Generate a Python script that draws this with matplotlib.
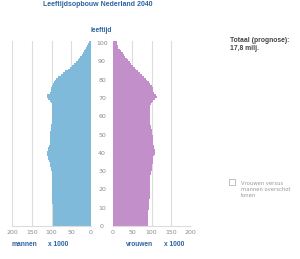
import matplotlib
matplotlib.use("Agg")
import matplotlib.pyplot as plt
from matplotlib.patches import Rectangle

ages = list(range(0, 101))
men = [95, 95, 96, 96, 96, 96, 97, 97, 97, 97,
       97, 97, 98, 98, 98, 98, 98, 98, 98, 98,
       98, 98, 99, 99, 99, 99, 99, 99, 100, 100,
       101, 102, 103, 103, 105, 107, 108, 110, 111, 112,
       111, 109, 108, 106, 105, 105, 104, 104, 103, 103,
       103, 103, 102, 102, 102, 101, 100, 99, 98, 98,
       98, 98, 98, 98, 98, 98, 99, 101, 104, 109,
       112, 111, 104, 101, 101, 101, 100, 97, 94, 91,
       88, 83, 77, 71, 65, 59, 53, 47, 42, 37,
       33, 30, 27, 24, 21, 18, 15, 13, 11, 8,
       5]
women = [90, 90, 90, 91, 91, 91, 92, 92, 92, 93,
         93, 93, 94, 94, 94, 95, 95, 95, 95, 96,
         96, 96, 96, 96, 97, 97, 97, 97, 98, 99,
         100, 101, 102, 102, 104, 105, 104, 105, 107, 108,
         109, 108, 107, 106, 105, 104, 104, 104, 103, 103,
         102, 101, 100, 99, 98, 97, 97, 96, 96, 96,
         96, 96, 96, 96, 96, 97, 98, 100, 104, 110,
         113, 112, 107, 105, 104, 103, 100, 97, 93, 89,
         85, 80, 75, 70, 65, 61, 56, 51, 47, 43,
         40, 36, 32, 28, 25, 21, 17, 14, 12, 11,
         10]
x_ticks = [0, 50, 100, 150, 200]
age_ticks = list(range(0, 101, 10))

title = "Leeftijdsopbouw Nederland 2040"
total_text = "Totaal (prognose):\n17,8 milj."

BLUE = "#80badb"
PURPLE = "#c28fca"
GRID = "#dcdcdc"
TICK = "#8a8a8a"
TITLE = "#2b63a0"
BFONT = "Liberation Sans"

W, H = 300, 259
fig = plt.figure(figsize=(W / 100, H / 100), dpi=100)
fig.patch.set_facecolor("white")

def fx(px):
    return px / W

def fy(py):
    return 1 - py / H

bottom = fy(226)
height = fy(41.2) - bottom

ax_l = fig.add_axes([fx(12), bottom, fx(91) - fx(12), height])
ax_r = fig.add_axes([fx(113), bottom, fx(190) - fx(113), height])

y_step = ages + [ages[-1] + 1]
ax_l.fill_betweenx(y_step, men + [men[-1]], 0, step="post", color=BLUE,
                   linewidth=0, zorder=2)
ax_r.fill_betweenx(y_step, women + [women[-1]], 0, step="post", color=PURPLE,
                   linewidth=0, zorder=2)

for ax in (ax_l, ax_r):
    ax.set_ylim(0, 101)
    ax.set_xticks(x_ticks)
    ax.set_xticklabels([str(t) for t in x_ticks])
    ax.tick_params(axis="x", length=0, pad=3, labelsize=4.5, labelcolor=TICK)
    ax.grid(axis="x", color=GRID, linewidth=0.8, zorder=0)
    ax.set_axisbelow(True)
    for s in ("top", "left", "right"):
        ax.spines[s].set_visible(False)
    ax.spines["bottom"].set_color(GRID)
    ax.spines["bottom"].set_linewidth(0.8)

ax_l.set_xlim(200, 0)
ax_r.set_xlim(0, 200)
ax_l.set_yticks([])
ax_r.set_yticks(age_ticks)
ax_r.set_yticklabels([str(a) for a in age_ticks])
ax_r.tick_params(axis="y", length=0, pad=7.9, labelsize=4.5, labelcolor=TICK)
for lbl in ax_r.get_yticklabels():
    lbl.set_ha("center")

fig.text(fx(43), fy(5), title, ha="left", va="center", fontsize=5.0,
         fontweight="bold", color=TITLE, family=BFONT)
fig.text(fx(101.5), fy(30), "leeftijd", ha="center", va="center", fontsize=4.8,
         fontweight="bold", color=TITLE, family=BFONT)
fig.text(fx(230), fy(45), total_text, ha="left", va="center", fontsize=4.9,
         fontweight="bold", color="#444444", linespacing=1.2, family=BFONT)

for x, s in ((11, "mannen"), (48, "x 1000"), (126, "vrouwen"), (164, "x 1000")):
    fig.text(fx(x), fy(245), s, ha="left", va="center", fontsize=4.8,
             fontweight="bold", color=TITLE, family=BFONT)

# checkbox
fig.patches.append(Rectangle((fx(229), fy(185)), fx(6), 6 / H, transform=fig.transFigure,
                             facecolor="white", edgecolor="#b5b5b5", linewidth=0.6))
fig.text(fx(241), fy(189.5), "Vrouwen versus\nmannen overschot\ntonen", ha="left",
         va="center", fontsize=3.8, color="#999999", linespacing=1.3)

fig.savefig("out.png", dpi=100)
